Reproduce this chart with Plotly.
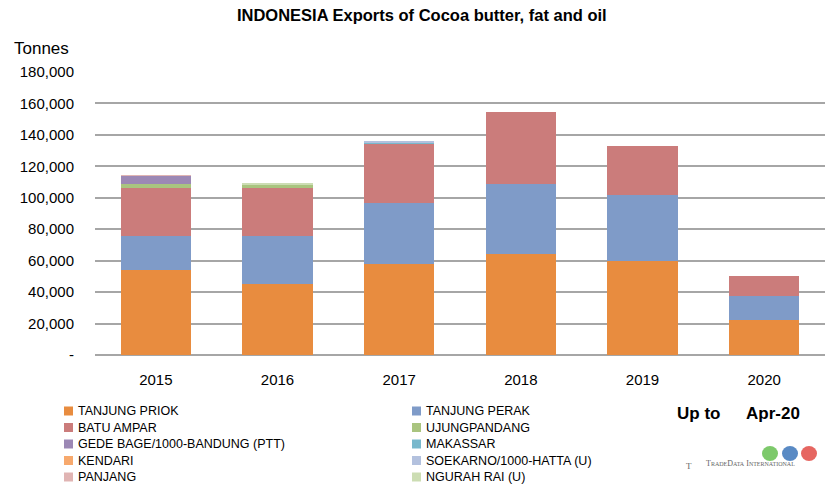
import plotly.graph_objects as go

years = ["2015", "2016", "2017", "2018", "2019", "2020"]

tanjung_priok = [54100, 45400, 58000, 64500, 59800, 22300]
tanjung_perak = [21800, 30500, 38400, 44500, 42200, 15000]
batu_ampar = [30100, 30500, 38200, 45600, 31000, 13200]
ujungpandang = [3000, 2100, 0, 0, 0, 0]
gede_bage = [4900, 0, 0, 0, 0, 0]
makassar = [0, 0, 600, 0, 0, 0]
kendari = [0, 0, 0, 0, 0, 0]
soekarno = [0, 0, 300, 0, 0, 0]
panjang = [400, 0, 0, 0, 0, 0]
ngurah_rai = [0, 700, 0, 0, 0, 0]

series = [
    ("TANJUNG PRIOK", tanjung_priok, "#E88C3F"),
    ("TANJUNG PERAK", tanjung_perak, "#7F9BC8"),
    ("BATU AMPAR", batu_ampar, "#CB7C7B"),
    ("UJUNGPANDANG", ujungpandang, "#A9C47F"),
    ("GEDE BAGE/1000-BANDUNG (PTT)", gede_bage, "#9C88B5"),
    ("MAKASSAR", makassar, "#78B8CC"),
    ("KENDARI", kendari, "#F7A96D"),
    ("SOEKARNO/1000-HATTA (U)", soekarno, "#B3C1DE"),
    ("PANJANG", panjang, "#E0B4B3"),
    ("NGURAH RAI (U)", ngurah_rai, "#CCDDB3"),
]

tick_vals = [0, 20000, 40000, 60000, 80000, 100000, 120000, 140000, 160000, 180000]
tick_text = ["-", "20,000", "40,000", "60,000", "80,000", "100,000", "120,000", "140,000", "160,000", "180,000"]

fig = go.Figure()
for name, vals, col in series:
    fig.add_trace(go.Bar(name=name, x=years, y=vals, showlegend=False,
                         marker=dict(color=col, line=dict(width=0))))

L, R, T, B = 95, 2, 72, 133
W, H = 827, 488
pw, ph = W - L - R, H - T - B

def px(x):
    return (x - L) / pw

def py(y):
    return (H - B - y) / ph

fig.update_layout(
    width=W, height=H,
    margin=dict(l=L, r=R, t=T, b=B, autoexpand=False),
    barmode="stack",
    bargap=0.42,
    plot_bgcolor="white",
    paper_bgcolor="white",
    font=dict(family="Liberation Sans, Arial, sans-serif", color="#000000"),
    title=dict(text="<b>INDONESIA Exports of Cocoa butter, fat and oil</b>",
               x=0.51, xref="container", xanchor="center", y=1 - 15 / H, yanchor="middle",
               font=dict(size=16.5, color="#000")),
    xaxis=dict(showline=False, tickfont=dict(size=15), ticks="", showgrid=False,
               ticklabelstandoff=14),
    yaxis=dict(range=[0, 180000], tickvals=tick_vals, ticktext=tick_text,
               showgrid=True, gridcolor="#A6A6A6", gridwidth=1.5,
               zeroline=True, zerolinecolor="#A6A6A6", zerolinewidth=1.5,
               tickfont=dict(size=15), ticks="", ticklabelstandoff=20),
    showlegend=False,
)

# custom two-column legend (row-major, like the original)
col_x = [64, 412]
row_y = [411, 427.5, 444, 460.5, 477]
for i, (name, vals, col) in enumerate(series):
    cx = col_x[i % 2]
    cy = row_y[i // 2]
    fig.add_shape(type="rect", xref="paper", yref="paper",
                  x0=px(cx), x1=px(cx + 9), y0=py(cy + 4.5), y1=py(cy - 4.5),
                  fillcolor=col, line=dict(width=0))
    fig.add_annotation(text=name, xref="paper", yref="paper", x=px(cx + 12), y=py(cy),
                       xanchor="left", yanchor="middle", showarrow=False,
                       font=dict(size=12.5))

fig.add_annotation(text="Tonnes", xref="paper", yref="paper", x=px(12), y=py(48),
                   xanchor="left", yanchor="middle", showarrow=False, font=dict(size=17))
fig.add_annotation(text="<b>Up to</b>", xref="paper", yref="paper", x=px(675), y=py(413),
                   xanchor="left", yanchor="middle", showarrow=False, font=dict(size=17))
fig.add_annotation(text="<b>Apr-20</b>", xref="paper", yref="paper", x=px(744), y=py(413),
                   xanchor="left", yanchor="middle", showarrow=False, font=dict(size=17))
fig.add_annotation(text="T<span style='font-size:6px'>RADE</span>D<span style='font-size:6px'>ATA</span> I<span style='font-size:6px'>NTERNATIONAL</span>",
                   xref="paper", yref="paper", x=px(704), y=py(463),
                   xanchor="left", yanchor="middle", showarrow=False,
                   font=dict(size=8, color="#666", family="Liberation Serif, serif"))
fig.add_annotation(text="T", xref="paper", yref="paper", x=px(684), y=py(466),
                   xanchor="left", yanchor="middle", showarrow=False,
                   font=dict(size=9, color="#666", family="Liberation Serif, serif"))
for cx, col in [(770, "#5DBB46"), (790, "#2F6DB5"), (809, "#E0403A")]:
    fig.add_shape(type="circle", xref="paper", yref="paper",
                  x0=px(cx - 8), x1=px(cx + 8), y0=py(461), y1=py(446),
                  fillcolor=col, line=dict(width=0), opacity=0.8)

fig.write_html("out.html")
